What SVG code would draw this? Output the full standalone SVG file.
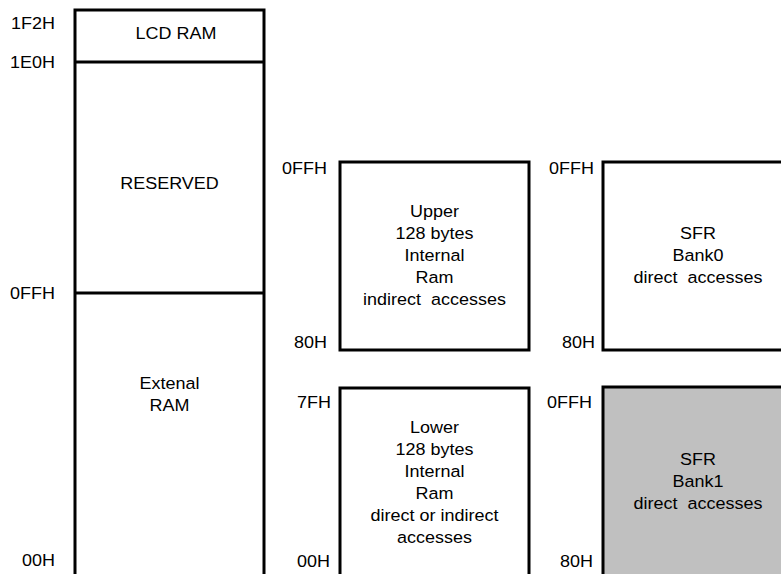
<svg xmlns="http://www.w3.org/2000/svg" width="781" height="574" viewBox="0 0 781 574">
<style>
.box{fill:#ffffff;stroke:#000000;stroke-width:3}
.grey{fill:#c0c0c0}
.div{stroke:#000000;stroke-width:3}
text{font-family:"Liberation Sans",Arial,sans-serif;font-size:16.5px;fill:#000000}
.c{text-anchor:middle}
.e{text-anchor:end}
</style>
<rect width="781" height="574" fill="#ffffff"/>
<g id="external-space">
<rect class="box" x="75" y="10" width="189" height="600"/>
<line class="div" x1="75" y1="62" x2="264" y2="62"/>
<line class="div" x1="75" y1="293" x2="264" y2="293"/>
<text class="c" transform="matrix(1.09 0 0 1 176 0)" x="0" y="39">LCD RAM</text>
<text class="c" transform="matrix(1.09 0 0 1 169.5 0)" x="0" y="189">RESERVED</text>
<text class="c" transform="matrix(1.09 0 0 1 169.5 0)" x="0" y="389">Extenal</text>
<text class="c" transform="matrix(1.09 0 0 1 169.5 0)" x="0" y="411">RAM</text>
<text class="e" transform="matrix(1.09 0 0 1 55 0)" x="0" y="29">1F2H</text>
<text class="e" transform="matrix(1.09 0 0 1 55 0)" x="0" y="68">1E0H</text>
<text class="e" transform="matrix(1.09 0 0 1 55 0)" x="0" y="299">0FFH</text>
<text class="e" transform="matrix(1.09 0 0 1 55 0)" x="0" y="566">00H</text>
</g>
<g id="upper-internal">
<rect class="box" x="340" y="162" width="189" height="188"/>
<text class="c" transform="matrix(1.09 0 0 1 434.5 0)" x="0" y="217">Upper</text>
<text class="c" transform="matrix(1.09 0 0 1 434.5 0)" x="0" y="239">128 bytes</text>
<text class="c" transform="matrix(1.09 0 0 1 434.5 0)" x="0" y="261">Internal</text>
<text class="c" transform="matrix(1.09 0 0 1 434.5 0)" x="0" y="283">Ram</text>
<text class="c" transform="matrix(1.09 0 0 1 434.5 0)" x="0" y="305" xml:space="preserve">indirect  accesses</text>
<text class="e" transform="matrix(1.09 0 0 1 327 0)" x="0" y="174">0FFH</text>
<text class="e" transform="matrix(1.09 0 0 1 327 0)" x="0" y="348">80H</text>
</g>
<g id="lower-internal">
<rect class="box" x="340" y="388" width="189" height="300"/>
<text class="c" transform="matrix(1.09 0 0 1 434.5 0)" x="0" y="433">Lower</text>
<text class="c" transform="matrix(1.09 0 0 1 434.5 0)" x="0" y="455">128 bytes</text>
<text class="c" transform="matrix(1.09 0 0 1 434.5 0)" x="0" y="477">Internal</text>
<text class="c" transform="matrix(1.09 0 0 1 434.5 0)" x="0" y="499">Ram</text>
<text class="c" transform="matrix(1.09 0 0 1 434.5 0)" x="0" y="521">direct or indirect</text>
<text class="c" transform="matrix(1.09 0 0 1 434.5 0)" x="0" y="543">accesses</text>
<text class="e" transform="matrix(1.09 0 0 1 331 0)" x="0" y="408">7FH</text>
<text class="e" transform="matrix(1.09 0 0 1 330 0)" x="0" y="567">00H</text>
</g>
<g id="sfr-bank0">
<rect class="box" x="603" y="162" width="200" height="188"/>
<text class="c" transform="matrix(1.09 0 0 1 698 0)" x="0" y="239">SFR</text>
<text class="c" transform="matrix(1.09 0 0 1 698 0)" x="0" y="261">Bank0</text>
<text class="c" transform="matrix(1.09 0 0 1 698 0)" x="0" y="283" xml:space="preserve">direct  accesses</text>
<text class="e" transform="matrix(1.09 0 0 1 594 0)" x="0" y="174">0FFH</text>
<text class="e" transform="matrix(1.09 0 0 1 595 0)" x="0" y="348">80H</text>
</g>
<g id="sfr-bank1">
<rect class="box grey" x="603" y="387" width="200" height="300"/>
<text class="c" transform="matrix(1.09 0 0 1 698 0)" x="0" y="465">SFR</text>
<text class="c" transform="matrix(1.09 0 0 1 698 0)" x="0" y="487">Bank1</text>
<text class="c" transform="matrix(1.09 0 0 1 698 0)" x="0" y="509" xml:space="preserve">direct  accesses</text>
<text class="e" transform="matrix(1.09 0 0 1 592 0)" x="0" y="408">0FFH</text>
<text class="e" transform="matrix(1.09 0 0 1 593 0)" x="0" y="567">80H</text>
</g>
<g id="connectors"></g>
</svg>
